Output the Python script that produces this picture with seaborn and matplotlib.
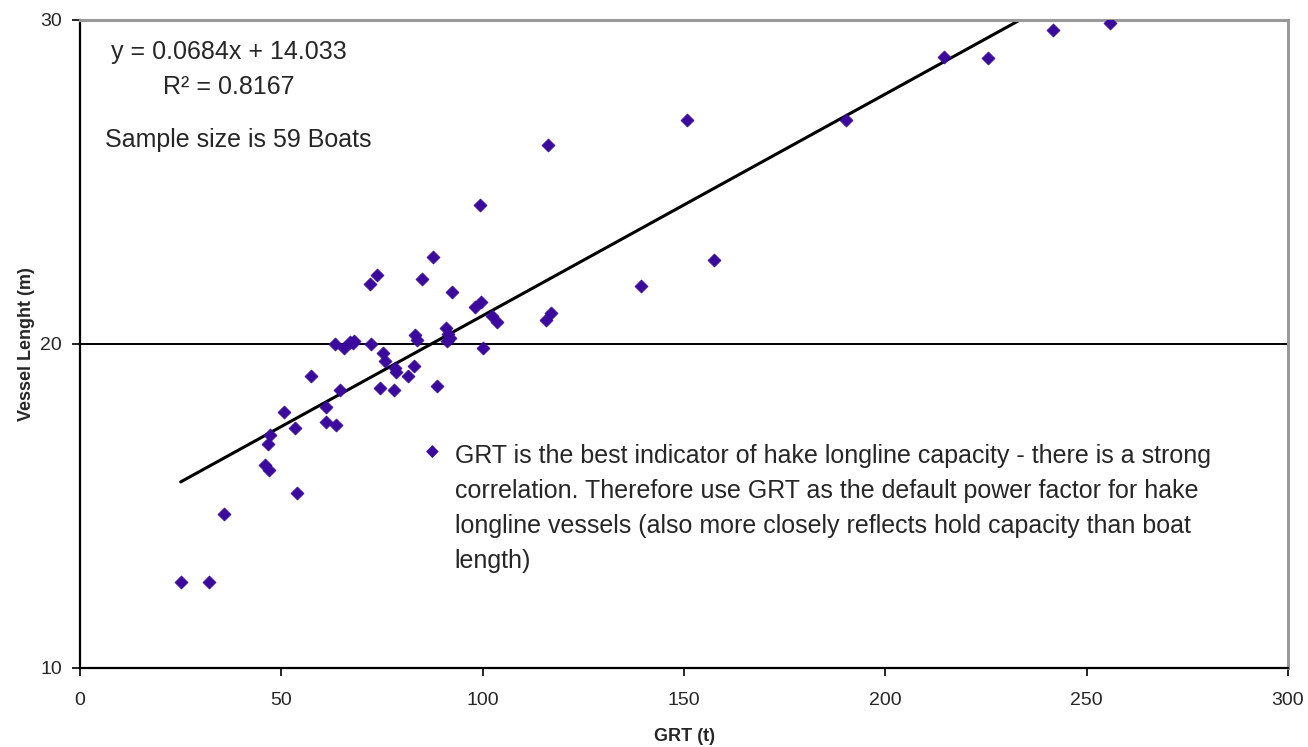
import numpy as np
import pandas as pd
import matplotlib
matplotlib.use("Agg")
import matplotlib.pyplot as plt
import seaborn as sns

# GRT (t) and vessel length (m)
grt = [25.0, 32.1, 35.8, 53.9, 46.0, 47.0, 46.7, 47.2, 53.4, 61.0,
       63.6, 87.7, 73.7, 72.0, 84.9, 92.4, 99.6, 98.2, 102.3, 103.6,
       90.9, 91.9, 91.1, 83.2, 83.7, 100.1, 63.4, 65.6, 67.1, 68.1,
       72.3, 75.2, 75.8, 78.2, 78.4, 83.0, 81.5, 74.5, 77.9, 88.6,
       57.3, 64.6, 61.0, 50.7, 116.2, 150.7, 99.4, 190.2, 214.5, 225.5,
       241.6, 255.8, 157.4, 139.3, 115.8, 117.0, 67.7, 91.5]
length = [12.65, 12.65, 14.74, 15.4, 16.25, 16.1, 16.9, 17.2, 17.4, 17.6,
          17.5, 22.68, 22.12, 21.85, 22.0, 21.6, 21.3, 21.15, 20.86, 20.68,
          20.5, 20.18, 20.09, 20.28, 20.12, 19.87, 20.0, 19.88, 20.06, 20.09,
          20.0, 19.72, 19.48, 19.26, 19.12, 19.32, 19.0, 18.65, 18.58, 18.71,
          19.0, 18.57, 18.06, 17.9, 26.15, 26.9, 24.28, 26.9, 28.86, 28.83,
          29.7, 29.9, 22.58, 21.8, 20.74, 20.96, 20.04, 20.3]

# Excel trendline coefficients shown on the chart
slope = 0.0684
intercept = 14.033

df = pd.DataFrame({"GRT": grt, "Length": length})
trend = pd.DataFrame({"GRT": [min(grt), max(grt)]})
trend["Length"] = slope * trend["GRT"] + intercept

sns.set_style("white")
plt.rcParams["font.family"] = ["Liberation Sans", "DejaVu Sans"]

purple = "#3b0a9c"

fig = plt.figure(figsize=(13.08, 7.47), dpi=100)
ax = fig.add_axes([0.0612, 0.1058, 0.9235, 0.8675])

ax.axhline(20, color="black", lw=1.4, zorder=1)
sns.lineplot(data=trend, x="GRT", y="Length", color="black", lw=2.2, ax=ax, zorder=2)
sns.scatterplot(data=df, x="GRT", y="Length", marker="D", s=44, color=purple,
                edgecolor=purple, linewidth=0.5, ax=ax, zorder=3)

ax.set_xlim(0, 300)
ax.set_ylim(10, 30)
ax.set_xticks([0, 50, 100, 150, 200, 250, 300])
ax.set_yticks([10, 20, 30])
ax.tick_params(axis="both", direction="out", length=6, width=1.2, color="black",
               labelsize=14, left=True, bottom=True)
ax.tick_params(axis="x", pad=11)
ax.tick_params(axis="y", pad=7)

for side in ["left", "bottom"]:
    ax.spines[side].set_color("black")
    ax.spines[side].set_linewidth(1.6)
for side in ["top", "right"]:
    ax.spines[side].set_color("#999999")
    ax.spines[side].set_linewidth(2.2)

ax.set_xlabel("GRT (t)", fontsize=13, fontweight="bold", labelpad=14)
ax.set_ylabel("Vessel Lenght (m)", fontsize=13, fontweight="bold", labelpad=4)

ax.text(0.026, 0.951, "y = 0.0684x + 14.033", transform=ax.transAxes,
        fontsize=18, va="center", ha="left")
ax.text(0.123, 0.897, "R² = 0.8167", transform=ax.transAxes,
        fontsize=18, va="center", ha="center")
ax.text(0.021, 0.815, "Sample size is 59 Boats", transform=ax.transAxes,
        fontsize=18, va="center", ha="left")

ax.text(0.292, 0.333, "◆", transform=ax.transAxes, fontsize=12,
        color=purple, va="center", ha="center", family=["DejaVu Sans"])
note = ("GRT is the best indicator of hake longline capacity - there is a strong\n"
        "correlation. Therefore use GRT as the default power factor for hake\n"
        "longline vessels (also more closely reflects hold capacity than boat\n"
        "length)")
ax.text(0.310, 0.345, note, transform=ax.transAxes, fontsize=18,
        va="top", ha="left", linespacing=1.58)

fig.savefig("out.png", dpi=100)
